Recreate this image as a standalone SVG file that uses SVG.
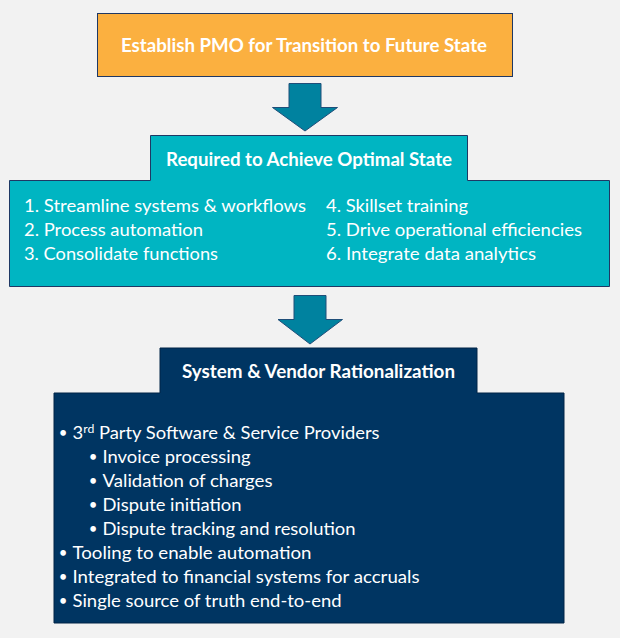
<svg xmlns="http://www.w3.org/2000/svg" width="620" height="638" viewBox="0 0 620 638">
<style>
.bg{fill:#F2F2F2}
.t{font-family:Lato,"Open Sans","Liberation Sans",sans-serif;fill:#FFFFFF;font-size:18px}
.b{font-weight:bold}
.arrow{fill:#00829F;stroke:#1F4E79;stroke-width:1}
.bul{text-anchor:middle;font-size:15px}
</style>
<rect class="bg" x="0" y="0" width="620" height="638"/>
<g id="pmo">
<rect x="97.5" y="13.5" width="415" height="63" fill="#FBB040" stroke="#1F3864" stroke-width="1"/>
<text class="t b" x="121" y="52" textLength="366" lengthAdjust="spacingAndGlyphs">Establish PMO for Transition to Future State</text>
</g>
<g id="connectors">
<polygon class="arrow" points="289,83.5 321,83.5 321,107.5 337.5,107.5 305,131 272.5,107.5 289,107.5"/>
<polygon class="arrow" points="294,295.5 326,295.5 326,319.5 342.5,319.5 310,344 278,319.5 294,319.5"/>
</g>
<g id="optimal">
<path d="M150.5,135.5 H467.5 V180.5 H609.5 V286.5 H9.5 V180.5 H150.5 Z" fill="#00B5C2" stroke="#1F3864" stroke-width="1"/>
<text class="t b" x="166" y="166" textLength="286" lengthAdjust="spacingAndGlyphs">Required to Achieve Optimal State</text>
<text class="t" x="24" y="212" textLength="282" lengthAdjust="spacingAndGlyphs">1. Streamline systems &amp; workflows</text>
<text class="t" x="24" y="236" textLength="179" lengthAdjust="spacingAndGlyphs">2. Process automation</text>
<text class="t" x="24" y="259.5" textLength="194" lengthAdjust="spacingAndGlyphs">3. Consolidate functions</text>
<text class="t" x="326" y="212" textLength="142" lengthAdjust="spacingAndGlyphs">4. Skillset training</text>
<text class="t" x="326" y="236" textLength="256" lengthAdjust="spacingAndGlyphs">5. Drive operational efficiencies</text>
<text class="t" x="326" y="259.5" textLength="210" lengthAdjust="spacingAndGlyphs">6. Integrate data analytics</text>
</g>
<g id="rationalization">
<path d="M160,348 H477 V393 H564 V623 H54 V393 H160 Z" fill="#003562" stroke="#002447" stroke-width="1"/>
<text class="t b" x="182" y="378" textLength="273" lengthAdjust="spacingAndGlyphs">System &amp; Vendor Rationalization</text>
<text class="t bul" x="63" y="438">•</text>
<text class="t" x="72.5" y="439" textLength="307" lengthAdjust="spacingAndGlyphs">3<tspan font-size="12" dy="-6">rd</tspan><tspan dy="6"> Party Software &amp; Service Providers</tspan></text>
<text class="t bul" x="93" y="462">•</text>
<text class="t" x="102.5" y="463" textLength="148" lengthAdjust="spacingAndGlyphs">Invoice processing</text>
<text class="t bul" x="93" y="486">•</text>
<text class="t" x="102.5" y="487" textLength="170" lengthAdjust="spacingAndGlyphs">Validation of charges</text>
<text class="t bul" x="93" y="509.5">•</text>
<text class="t" x="102.5" y="510.5" textLength="139" lengthAdjust="spacingAndGlyphs">Dispute initiation</text>
<text class="t bul" x="93" y="533.5">•</text>
<text class="t" x="102.5" y="534.5" textLength="253" lengthAdjust="spacingAndGlyphs">Dispute tracking and resolution</text>
<text class="t bul" x="63" y="557.5">•</text>
<text class="t" x="72.5" y="558.5" textLength="239" lengthAdjust="spacingAndGlyphs">Tooling to enable automation</text>
<text class="t bul" x="63" y="581.5">•</text>
<text class="t" x="72.5" y="582.5" textLength="347" lengthAdjust="spacingAndGlyphs">Integrated to financial systems for accruals</text>
<text class="t bul" x="63" y="605.5">•</text>
<text class="t" x="72.5" y="606.5" textLength="269" lengthAdjust="spacingAndGlyphs">Single source of truth end-to-end</text>
</g>
</svg>
